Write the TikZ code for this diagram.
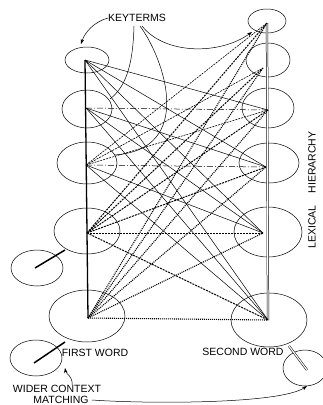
\documentclass[tikz,border=0pt]{standalone}
\usepackage{fontspec}
\setmainfont{Liberation Sans}
\usetikzlibrary{shapes.geometric,arrows.meta}
\begin{document}
\begin{tikzpicture}[x=1pt,y=-1pt,
  ell/.style={draw,ellipse,inner sep=0pt,line width=0.5pt},
  lbl/.style={font=\fontsize{10.5}{12}\selectfont,inner sep=0pt},
  solidln/.style={line width=0.5pt},
  dashdotln/.style={line width=0.5pt,dash pattern=on 6pt off 2pt on 1pt off 2pt},
  thindash/.style={line width=0.6pt,dash pattern=on 2pt off 1pt},
  hatchln/.style={line width=1pt,dash pattern=on 2pt off 1pt},
  dotln/.style={line width=1.1pt,dash pattern=on 1pt off 1pt},
  arr/.style={line width=0.5pt,-{Stealth[length=5pt,width=3.5pt]}},
  curveln/.style={line width=0.5pt}]
\useasboundingbox (0,0) rectangle (322,405);
% left column ellipses
\node[ell,minimum width=44pt,minimum height=26pt] (L1) at (87,60) {};
\node[ell,minimum width=50pt,minimum height=38pt] (L2) at (87,109) {};
\node[ell,minimum width=60pt,minimum height=42pt] (L3) at (87,163) {};
\node[ell,minimum width=66pt,minimum height=46pt] (L4) at (87,231) {};
\node[ell,minimum width=76pt,minimum height=52pt] (L5) at (87,316) {};
% right column ellipses
\node[ell,minimum width=38pt,minimum height=24pt] (R1) at (267,21) {};
\node[ell,minimum width=44pt,minimum height=34pt] (R2) at (268,60) {};
\node[ell,minimum width=52pt,minimum height=40pt] (R3) at (268,108) {};
\node[ell,minimum width=60pt,minimum height=40pt] (R4) at (269,163) {};
\node[ell,minimum width=68pt,minimum height=50pt] (R5) at (268,232) {};
\node[ell,minimum width=76pt,minimum height=54pt] (R6) at (269,320) {};
% wider context ellipses
\node[ell,minimum width=52pt,minimum height=36pt] (S1) at (37,268) {};
\node[ell,minimum width=52pt,minimum height=36pt] (S2) at (36,358) {};
\node[ell,minimum width=44pt,minimum height=36pt] (S3) at (305,368) {};
% points
\coordinate (p1) at (85,60);
\coordinate (p2) at (86,108);
\coordinate (p3) at (86,165);
\coordinate (p4) at (87,233);
\coordinate (p5) at (88,318);
\coordinate (q1) at (267,23);
\coordinate (q2) at (263,68);
\coordinate (q3) at (268,110);
\coordinate (q4) at (266,167);
\coordinate (q5) at (263,233);
\coordinate (q6) at (268,320);
\coordinate (s1) at (35,268);
\coordinate (s1e) at (65,250);
\coordinate (s2) at (34,363);
\coordinate (s2e) at (65,342);
\coordinate (s3) at (307,370);
\coordinate (s3e) at (289,346);
% hierarchy lines
\draw[line width=1.3pt] (p1) -- (p5);
\draw[double=white,double distance=1.2pt,line width=0.5pt] (q1) -- (q6);
% connectors from p1
\foreach \q in {q3,q4,q5,q6} \draw[solidln] (p1) -- (\q);
% from p2
\draw[dashdotln] (p2) -- (q3);
\foreach \q in {q4,q5,q6} \draw[solidln] (p2) -- (\q);
% from p3
\draw[dashdotln] (p3) -- (q4);
\foreach \q in {q5,q6} \draw[solidln] (p3) -- (\q);
\foreach \q in {q1,q2,q3} \draw[thindash] (p3) -- (\q);
% from p4
\foreach \q in {q1,q2,q3,q4,q5,q6} \draw[hatchln] (p4) -- (\q);
% from p5
\foreach \q in {q1,q2,q3,q4,q5,q6} \draw[dotln] (p5) -- (\q);
% wider context links
\draw[line width=1.5pt] (s1) -- (s1e);
\draw[line width=1.5pt] (s2) -- (s2e);
\draw[double=white,double distance=1.2pt,line width=0.5pt] (s3e) -- (s3);
% labels
\node[lbl] (kt) at (137,18) {KEYTERMS};
\node[lbl,rotate=90] (lh) at (312,190) {LEXICAL\hspace{12pt}HIERARCHY};
\node[lbl] (fw) at (95,353) {FIRST WORD};
\node[lbl] (sw) at (243,352) {SECOND WORD};
\node[lbl] (wc) at (57,389) {WIDER CONTEXT};
\node[lbl] (mt) at (61,400) {MATCHING};
% keyterm arrows
\coordinate (k1) at (81,44);
\coordinate (k2) at (252,32);
\coordinate (k3) at (110,99);
\coordinate (k4) at (114,155);
\draw[arr] (kt.west) .. controls (94,22) and (85,32) .. (k1);
\draw[arr] (142,26) .. controls (165,55) and (220,55) .. (k2);
\draw[curveln] (134,26) .. controls (133,60) and (128,85) .. (k3);
\draw[curveln] (140,26) .. controls (165,60) and (195,150) .. (k4);
% wider context arrows
\coordinate (w1) at (65,368);
\coordinate (w2) at (307,386);
\draw[arr] (wc.north) ++(15,0) .. controls (73,376) and (66,374) .. (w1);
\draw[arr] (mt.east) ++(3,0) .. controls (150,404) and (280,404) .. (w2);
\end{tikzpicture}
\end{document}
